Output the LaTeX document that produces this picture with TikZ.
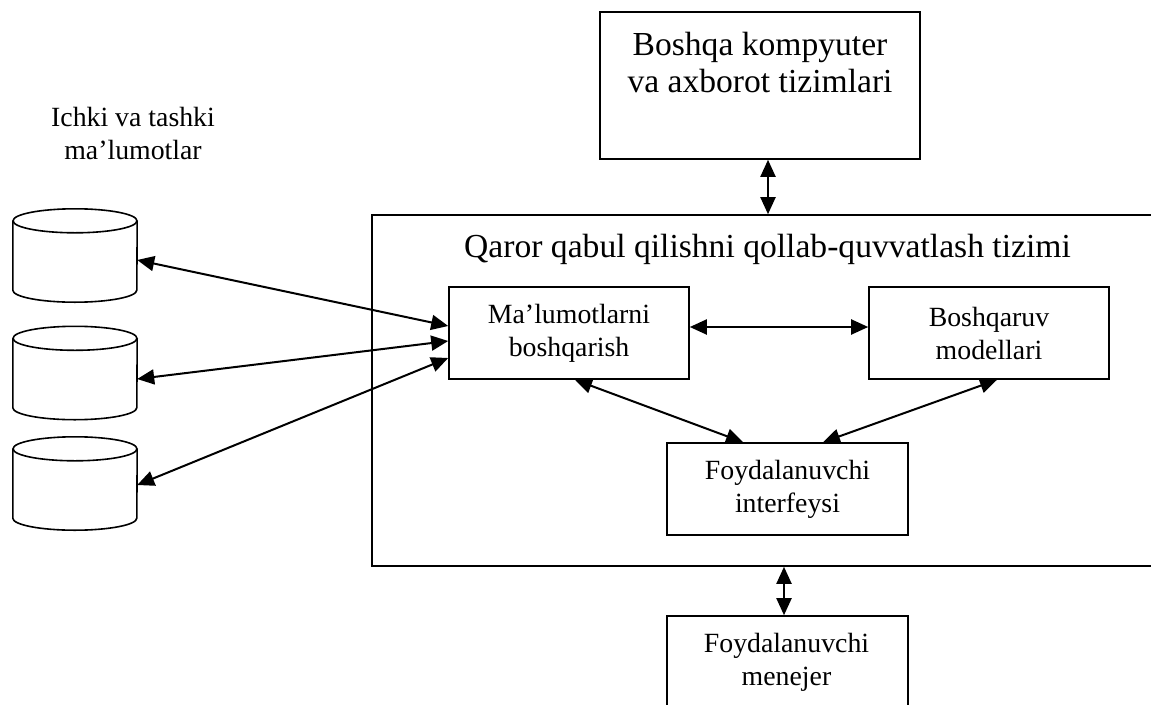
\documentclass[tikz,border=0pt]{standalone}
\usepackage{fontspec}
\setmainfont{Liberation Serif}
\usetikzlibrary{arrows.meta,positioning}
\begin{document}
\begin{tikzpicture}[x=1pt,y=-1pt,
		box/.style={draw,line width=1.6pt,inner sep=0pt,align=center,
			font=\fontsize{27.8}{33}\selectfont},
		boxtext/.style={inner sep=0pt,align=center,font=\fontsize{27.8}{33}\selectfont},
		bigtext/.style={inner sep=0pt,align=center,font=\fontsize{33.6}{37}\selectfont},
		dbase/.style={minimum width=124pt,minimum height=93pt,inner sep=0pt},
		link/.style={line width=2pt,
			{Triangle[length=17pt,width=15pt]}-{Triangle[length=17pt,width=15pt]}}]

		\useasboundingbox (0,0) rectangle (1151,704);

		% tashqi tizimlar
		\node[box,minimum width=320pt,minimum height=147pt] (other) at (760,85.5) {};
		\node[bigtext] (othertext) at (760,63) {Boshqa kompyuter\\va axborot tizimlari};

		% asosiy tizim
		\node[box,minimum width=808pt,minimum height=351pt] (sys) at (776,390.5) {};
		\node[bigtext,anchor=base] (systitle) at (767.5,257) {Qaror qabul qilishni qollab-quvvatlash tizimi};

		\node[box,minimum width=240pt,minimum height=92pt] (data) at (569,333) {Ma’lumotlarni\\boshqarish};
		\node[box,minimum width=240pt,minimum height=92pt] (models) at (989,333) {Boshqaruv\\modellari};
		\node[box,minimum width=241pt,minimum height=92pt] (ui) at (787.5,489) {Foydalanuvchi\\interfeysi};

		% foydalanuvchi
		\node[box,minimum width=241pt,minimum height=124pt] (user) at (787.5,678) {};
		\node[boxtext] (usertext) at (786.5,662.5) {Foydalanuvchi\\menejer};

		% ma'lumotlar bazalari
		\node[boxtext] (dblabel) at (133,133) {Ichki va tashki\\ma’lumotlar};
		\foreach \name/\y in {db1/255.5,db2/373,db3/483.5} {
			\node[dbase] (\name) at (75,\y) {};
			\draw[line width=1.6pt] ([yshift=-12pt]\name.north) ellipse[x radius=62pt,y radius=12pt];
			\draw[line width=1.6pt] ([yshift=-12pt]\name.north west) -- ([yshift=12pt]\name.south west)
				arc[start angle=180,end angle=360,x radius=62pt,y radius=12pt]
				-- ([yshift=-12pt]\name.north east);
		}

		\draw[link] ([yshift=-4.5pt]db1.east) -- ([yshift=7pt]data.west);
		\draw[link] ([yshift=-6pt]db2.east) -- ([yshift=-8pt]data.west);
		\draw[link] ([yshift=-1.5pt]db3.east) -- ([yshift=-25pt]data.west);
		\draw[link] ([yshift=6pt]data.east) -- ([yshift=6pt]models.west);
		\draw[link] ([xshift=6pt]data.south) -- ([xshift=-44.5pt]ui.north);
		\draw[link] ([xshift=8pt]models.south) -- ([xshift=35.5pt]ui.north);
		\draw[link] ([xshift=8pt]other.south) -- ([xshift=8pt]other.south |- sys.north);
		\draw[link] ([xshift=-3.5pt]user.north) -- ([xshift=-3.5pt]user.north |- sys.south);
\end{tikzpicture}
\end{document}
